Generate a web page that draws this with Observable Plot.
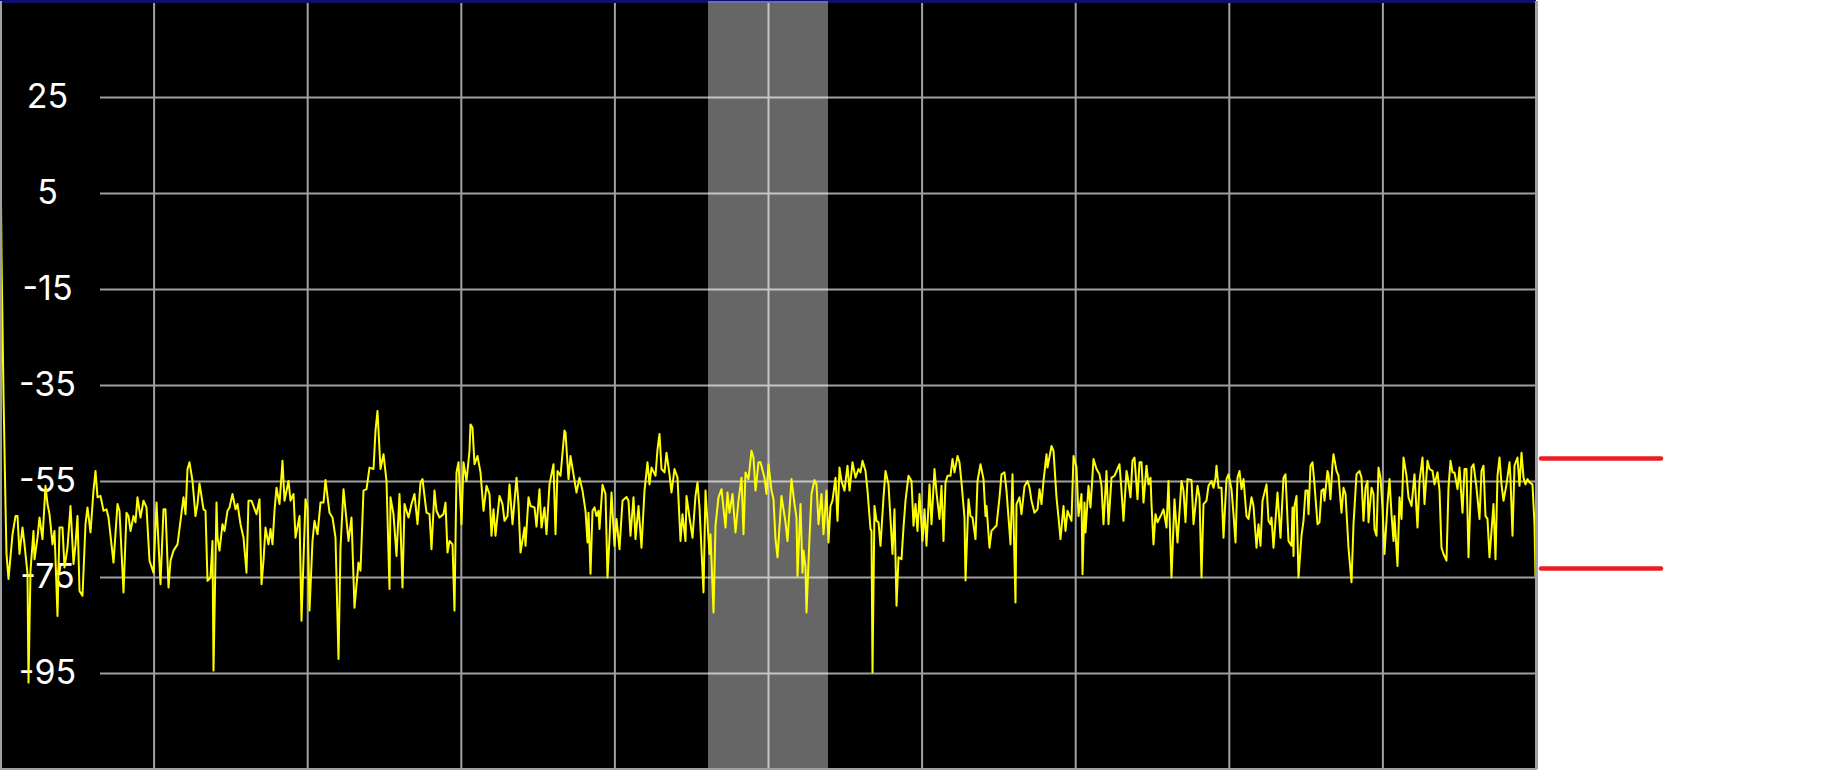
<!DOCTYPE html>
<html>
<head>
<meta charset="utf-8">
<script src="https://cdn.jsdelivr.net/npm/d3@7"></script>
<script src="https://cdn.jsdelivr.net/npm/@observablehq/plot@0.6"></script>
<style>
html, body { margin: 0; padding: 0; background: #ffffff; overflow: hidden; }
#chart svg { display: block; }
</style>
</head>
<body>
<div id="chart"></div>
<script>
// Spectrum trace: [bin, level dB]
const segA = [[0,14.6],[1,-8],[3,-37],[5,-60],[6,-70.1],[8,-75.3],[12,-66],[15,-62.2],[17,-62.2],[19,-70.1],[22,-64.6],[24,-68.1],[27,-74.2],[28,-96.9],[30,-73.6],[33,-65.3],[34,-71.2],[37,-66.7],[39,-62.5],[42,-67],[45,-55.9],[47,-59.7],[49,-61.8],[52,-68.1],[54,-65.3],[57,-83],[59,-64.6],[62,-64.6],[64,-72.9],[67,-68.8],[70,-60.1],[73,-72.2],[75,-68.1],[77,-62.2],[79,-77.8],[82,-78.8],[85,-63.9],[87,-60.4],[90,-65.6],[93,-56.9],[95,-52.8],[97,-58.3],[100,-58],[103,-61.1],[106,-60.8],[108,-62.5],[113,-71.9],[117,-59.7],[119,-61.1],[123,-78.1],[126,-61.5],[128,-62.2],[130,-65.3],[133,-62.2],[135,-63.5],[137,-58.3],[140,-62.5],[143,-59],[146,-60.4],[149,-71.5],[153,-74],[156,-59.4],[160,-76.4],[163,-60.8],[165,-60.8],[168,-77.1],[170,-71.5],[173,-69.4],[177,-68.1],[180,-63.2],[183,-58.3],[185,-61.8],[187,-52.4],[189,-51],[192,-54.9],[195,-62.2],[197,-59.7],[199,-55.4],[203,-60.8],[205,-61.1],[207,-75.7],[210,-75],[212,-67.4],[213,-94.4],[216,-59.4],[217,-66.7],[219,-69.4],[222,-63.9],[224,-65.3],[227,-61.1],[229,-60.4],[232,-57.6],[235,-60.8],[237,-59.7],[240,-63.9],[243,-66.7],[246,-74],[248,-59],[251,-59]];
const segB = [[256,-61.8],[259,-58.7],[261,-76.4],[263,-71.5],[265,-64.6],[268,-68.1],[270,-64.9],[272,-68.1],[274,-61.1],[276,-56.3],[279,-59.7],[282,-50.7],[284,-59],[288,-54.9],[290,-59],[293,-57.6],[295,-66.7],[299,-62.2],[301,-84],[305,-58.7],[307,-60.4],[309,-81.9],[312,-67.4],[314,-63.2],[317,-66],[320,-59.4],[323,-59.4],[325,-54.7],[329,-61.5],[332,-62.5],[335,-66.7],[338,-92],[340,-68.8],[343,-56.6],[348,-67.4],[351,-62.5],[354,-81.3],[358,-71.9],[360,-73.6],[363,-56.9],[366,-56.6],[369,-52.1],[373,-52.4],[375,-44.4],[377,-40.3],[380,-52.4],[383,-49.3],[386,-54.9],[389,-77.4],[390,-58.3],[393,-61.8],[396,-70.5],[399,-57.6],[402,-77.1],[404,-59.7],[408,-62.5],[411,-59.7],[414,-57.6],[417,-63.9],[420,-55.2],[422,-54.5],[426,-61.5],[429,-61.8],[431,-69.1],[434,-56.9],[436,-61.1],[439,-62.5],[443,-61.8],[445,-59.4],[447,-69.8],[449,-67.4],[452,-68.1],[454,-81.9],[456,-53.1],[458,-51],[461,-63.9],[463,-51],[466,-54.9],[469,-48.6],[470,-43.1],[472,-43.8],[474,-51.4],[477,-49.7],[480,-53.1],[483,-61.1],[486,-55.9],[489,-57.6],[491,-66.3],[493,-60.8],[495,-66.3],[499,-58],[502,-59.7],[504,-63.2],[507,-62.2],[509,-55.6]];
const segC = [[512,-63.9],[516,-54.2],[518,-59.7],[520,-69.8],[524,-64.6],[525,-68.4],[528,-58.3],[530,-60.1],[534,-60.4],[536,-64.4],[539,-56.6],[541,-64.6],[544,-60.4],[546,-66],[549,-55.6],[553,-51.4],[555,-66],[557,-52.8],[560,-53.8],[564,-44.4],[565,-44.8],[568,-54.5],[570,-49.7],[573,-53.5],[576,-57.3],[579,-54.2],[582,-56.9],[585,-61.1],[587,-67.7],[588,-61.5],[590,-74.2],[592,-61.1],[594,-60.4],[596,-62.2],[598,-61.1],[599,-64.9],[602,-55.7],[605,-57.6],[607,-75],[609,-66.7],[611,-57.3],[614,-68.4],[616,-62.8],[619,-69.1],[622,-59],[626,-58.2],[628,-59],[630,-66.3],[633,-58.3],[635,-67],[638,-60.1],[641,-68.8],[644,-56.9],[647,-51],[649,-55.6],[651,-52.1],[655,-53.8],[657,-48.3],[659,-45.1],[661,-52.4],[664,-53.1],[666,-49],[669,-53.5],[671,-57.3],[674,-52.4],[677,-54.2],[680,-67.4],[682,-61.8],[685,-67.4],[686,-58],[689,-62.5],[692,-66.7],[695,-58],[697,-55.2],[699,-60.4],[703,-78.1],[705,-56.9],[709,-70.1],[710,-66],[713,-82.3],[715,-64.2],[718,-58.3],[721,-56.6],[725,-64.6],[727,-57.3],[729,-61.5],[732,-57.6],[735,-65.6],[738,-59],[741,-54.2],[743,-66],[745,-53.1],[748,-54.5],[751,-48.6],[753,-50],[755,-56.9],[758,-51],[760,-51],[764,-54.2],[766,-57.6]];
const segD = [[768,-51.4],[771,-56.9],[773,-58.7],[775,-67],[777,-70.8],[781,-58],[783,-60.8],[785,-63.5],[787,-67.4],[791,-54.5],[794,-59.7],[796,-62.5],[797,-74.7],[800,-59.7],[802,-74],[803,-69.4],[805,-72.9],[806,-82.3],[809,-66.7],[811,-57.6],[814,-54.7],[816,-55.6],[818,-63.9],[821,-57.6],[823,-66],[826,-56.9],[828,-67.7],[830,-60.1],[832,-59],[835,-54.2],[837,-63.2],[839,-52.1],[841,-54.9],[844,-56.9],[847,-51.7],[849,-56.9],[852,-51],[855,-54.2],[858,-52.4],[860,-53.1],[862,-50.7],[865,-52.8],[867,-56.9],[870,-64.9],[871,-65.3],[872,-94.8],[874,-60.1],[876,-63.2],[878,-63.5],[880,-68.4],[883,-58.3],[885,-52.8],[888,-55.6],[892,-70.1],[894,-60.8],[896,-80.9],[898,-70.8],[901,-71.2],[903,-64.6],[905,-59],[908,-53.8],[911,-54.9],[913,-64.2],[915,-59.7],[917,-65.3],[919,-57.6],[922,-67.4],[924,-60.8],[926,-68.4],[929,-55.6],[931,-63.9],[934,-52.4],[936,-57.3],[939,-62.8],[941,-55.9],[943,-67.4],[945,-55.2],[947,-53.8],[950,-53.8],[952,-50.3],[954,-53.1],[957,-49.7],[959,-51],[961,-55.2],[964,-62.5],[965,-75.6],[968,-58.7],[970,-62.2],[972,-62.5],[975,-67],[977,-54.9],[980,-51.4],[983,-54.5],[985,-62.2],[986,-60.1],[989,-68.8],[991,-65.3],[994,-64.6],[996,-64.2],[999,-58.3],[1001,-53.5],[1004,-53.1],[1006,-56.9],[1008,-62.5],[1010,-68.1],[1012,-53.5],[1015,-80.2],[1016,-59.7],[1019,-58.3],[1021,-61.8]];
const segE = [[1024,-56],[1027,-54.9],[1029,-56.3],[1031,-59],[1034,-61.5],[1037,-60.8],[1039,-56.6],[1041,-59.7],[1043,-54.9],[1046,-49.3],[1047,-52.1],[1051,-47.6],[1053,-48.6],[1056,-58.3],[1058,-62.5],[1060,-67],[1063,-60.1],[1065,-65.3],[1067,-61.1],[1071,-63.2],[1073,-49.7],[1076,-52.1],[1078,-62.2],[1081,-57.6],[1082,-74.3],[1084,-59.4],[1085,-65.6],[1088,-55.9],[1090,-60.4],[1093,-50.3],[1096,-52.4],[1099,-53.5],[1101,-55.9],[1103,-63.9],[1106,-52.8],[1108,-63.9],[1111,-54.2],[1114,-53.8],[1119,-51.4],[1121,-56.9],[1123,-63.2],[1126,-52.8],[1127,-53.8],[1130,-58.3],[1132,-50.7],[1134,-50],[1137,-58.7],[1139,-51],[1141,-51],[1143,-59.4],[1146,-51.7],[1148,-55.6],[1150,-54.2],[1151,-59.7],[1153,-68.1],[1155,-61.8],[1157,-63.5],[1161,-61.8],[1163,-60.8],[1166,-64.6],[1168,-54.9],[1171,-75],[1174,-58.7],[1177,-67.7],[1181,-54.9],[1183,-56.9],[1185,-63.5],[1187,-54.5],[1191,-54.7],[1193,-63.9],[1197,-55.9],[1199,-58.3],[1201,-75],[1203,-59.7],[1206,-59],[1208,-55.9],[1211,-54.9],[1213,-56.3],[1215,-54.2],[1216,-51.7],[1218,-56.3],[1221,-56.3],[1223,-66.7],[1226,-54.5],[1228,-53.5],[1231,-56.6],[1233,-61.8],[1235,-67.7],[1237,-54.2],[1239,-52.8],[1241,-56.6],[1243,-54.5],[1246,-62.2],[1248,-62.8],[1251,-58.3],[1253,-60.1],[1256,-68.8],[1258,-63.9],[1260,-68.4],[1262,-59],[1266,-55.6],[1268,-63.2],[1270,-63.9],[1271,-62.5],[1273,-68.8],[1277,-57.3]];
const segF = [[1280,-66.7],[1283,-54.2],[1285,-53.5],[1288,-67.4],[1291,-68.4],[1292,-60.4],[1293,-70.5],[1294,-60.1],[1296,-58],[1298,-75],[1301,-66.3],[1303,-63.2],[1305,-56.9],[1307,-56.9],[1308,-61.8],[1310,-51.7],[1312,-51],[1314,-55.6],[1317,-63.9],[1319,-63.5],[1321,-56.9],[1323,-56.6],[1324,-59],[1327,-52.8],[1328,-53.5],[1330,-58.7],[1332,-51.4],[1333,-49.3],[1336,-52.8],[1338,-53.8],[1341,-61.5],[1343,-56.3],[1345,-57.6],[1348,-68.8],[1351,-76],[1353,-63.9],[1356,-53.5],[1359,-52.8],[1361,-54.2],[1363,-63.2],[1365,-56.3],[1367,-54.9],[1368,-63.5],[1371,-56.3],[1373,-57.6],[1374,-64.9],[1376,-66.3],[1378,-52.1],[1380,-54.2],[1382,-60.4],[1384,-70.1],[1387,-59.7],[1389,-54.5],[1391,-61.8],[1393,-67.4],[1394,-62.2],[1397,-72.6],[1399,-58.3],[1401,-62.8],[1403,-50],[1406,-53.8],[1408,-58.3],[1411,-60.1],[1414,-53.5],[1417,-64.6],[1419,-54.9],[1422,-50],[1424,-59.7],[1427,-50.7],[1429,-52.4],[1432,-52.8],[1434,-55.6],[1437,-53.1],[1439,-56.9],[1441,-68.8],[1443,-70.1],[1446,-71.5],[1448,-56.3],[1450,-50.7],[1452,-53.1],[1454,-53.1],[1457,-56.6],[1459,-52.1],[1462,-61.5],[1464,-52.4],[1466,-52.4],[1468,-70.8],[1471,-52.1],[1473,-51.4],[1476,-56.3],[1479,-62.8],[1481,-52.8],[1483,-51.7],[1485,-62.2],[1487,-62.8],[1489,-70.8],[1492,-62.5],[1493,-59.7],[1495,-71.2],[1497,-53.8],[1499,-50],[1501,-55.6],[1503,-59],[1506,-55.6],[1509,-51],[1510,-54.5],[1512,-66.3],[1514,-51.7],[1517,-50],[1519,-55.9],[1521,-49],[1523,-54.2],[1525,-55.6],[1527,-54.5],[1529,-55.2],[1532,-55.6],[1534,-63.9],[1535,-74.7]];

// Axes / annotations
const binDomain = [0, 1536];
const levelDomain = [-115, 45];
const yTicks = [25, 5, -15, -35, -55, -75, -95];
const xDivisions = [153.6, 307.2, 460.8, 614.4, 768, 921.6, 1075.2, 1228.8, 1382.4];
const labelBin = 47;          // where the level labels sit (bin units)
const gridStartBin = 100;     // horizontal grid starts after the label gutter
const highlightBand = [{start: 708, end: 828}];
const markerLevels = [-50.2, -73.1];
const markerBins = [1541, 1661];

const spectrum = [...segA, ...segB, ...segC, ...segD, ...segE, ...segF]
  .map(([bin, level]) => ({bin, level}));

const gridColor = "#a0a0a0";

const chart = Plot.plot({
  width: 1833,
  height: 770,
  marginLeft: 0,
  marginRight: 297,
  marginTop: 1,
  marginBottom: 1,
  style: {background: "#ffffff", fontFamily: "Inter, 'Open Sans', sans-serif"},
  x: {domain: binDomain, axis: null},
  y: {domain: levelDomain, axis: null},
  marks: [
    Plot.frame({fill: "#000000", stroke: null}),
    Plot.ruleX(xDivisions, {x: d => d, stroke: gridColor, strokeWidth: 2}),
    Plot.ruleY(yTicks, {y: d => d, x1: gridStartBin, x2: binDomain[1], stroke: gridColor, strokeWidth: 2}),
    Plot.ruleY([levelDomain[1]], {y: d => d, stroke: "#0f0f6e", strokeWidth: 3, clip: false}),
    Plot.rect(highlightBand, {x1: "start", x2: "end", fill: "#ffffff", fillOpacity: 0.4}),
    Plot.text(yTicks, {x: () => labelBin, y: d => d, text: d => String(d), fill: "#ffffff",
      fontSize: 34, textAnchor: "middle", lineAnchor: "middle"}),
    Plot.line(spectrum, {x: "bin", y: "level", stroke: "#ffff00", strokeWidth: 2, strokeLinejoin: "round"}),
    Plot.ruleX([binDomain[0]], {x: d => d, stroke: gridColor, strokeWidth: 3}),
    Plot.ruleX([binDomain[1]], {x: d => d, stroke: gridColor, strokeWidth: 3}),
    Plot.ruleY([levelDomain[0]], {y: d => d, stroke: gridColor, strokeWidth: 3, clip: false}),
    Plot.ruleY(markerLevels, {y: d => d, x1: markerBins[0], x2: markerBins[1], stroke: "#ed1c24",
      strokeWidth: 4.5, strokeLinecap: "round", clip: false})
  ]
});

document.getElementById("chart").appendChild(chart);
</script>
</body>
</html>
